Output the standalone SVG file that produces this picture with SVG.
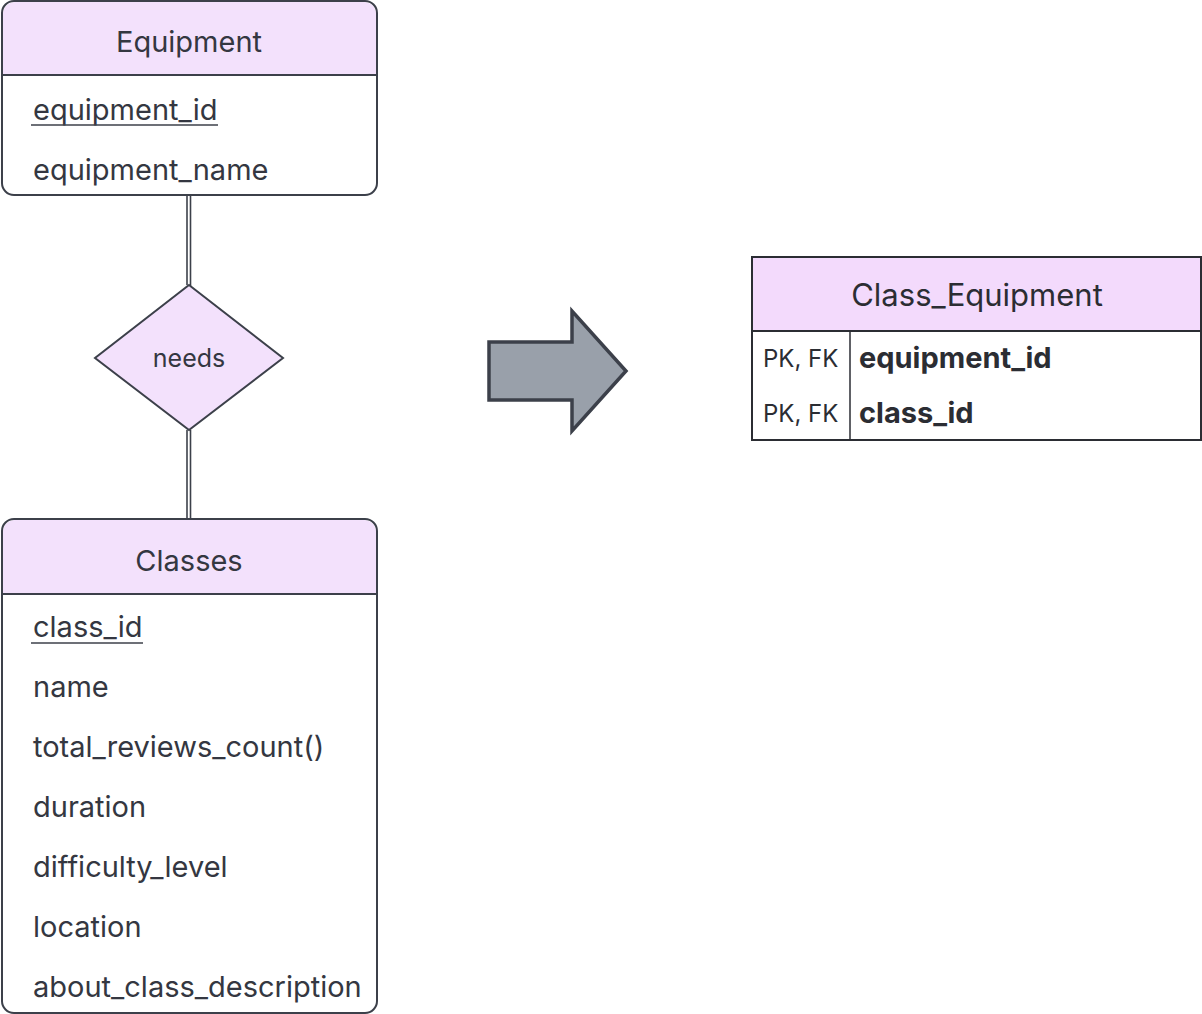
<svg xmlns="http://www.w3.org/2000/svg" width="1202" height="1014" viewBox="0 0 1202 1014">
<style>
text{font-family:Inter,"Noto Sans","Liberation Sans",sans-serif;fill:#343741}
.title{font-size:29px;text-anchor:middle}
.attr{font-size:29px}
.key{font-size:24px}
.bold{font-size:29px;font-weight:700}
.box{fill:none;stroke:#3c404a;stroke-width:2}
.hdr{fill:#f3e1fc}
.line{stroke:#3c404a;stroke-width:2;fill:none}
.ul{stroke:#3c404a;stroke-width:1.5;fill:none}
.conn{stroke:#3c404a;stroke-width:1.6;fill:none}
.dk{fill:#2b2d33}
</style>
<rect width="1202" height="1014" fill="#ffffff"/>
<g id="connectors">
<line class="conn" x1="187" y1="196" x2="187" y2="285"/>
<line class="conn" x1="190.5" y1="196" x2="190.5" y2="286"/>
<line class="conn" x1="187" y1="430" x2="187" y2="519"/>
<line class="conn" x1="190.5" y1="430" x2="190.5" y2="519"/>
</g>
<g id="equipment">
<path class="hdr" d="M3,75 V14 a12,12 0 0 1 12,-12 H364 a12,12 0 0 1 12,12 V75 Z"/>
<rect class="box" x="2" y="1" width="375" height="194" rx="12"/>
<line class="line" x1="2" y1="75" x2="377" y2="75"/>
<text class="title" x="189" y="52">Equipment</text>
<text class="attr" x="33" y="120">equipment_id</text>
<line class="ul" x1="31" y1="125" x2="218" y2="125"/>
<text class="attr" x="33" y="180">equipment_name</text>
</g>
<g id="needs">
<polygon points="189,285 283,358 189,430 95,358" fill="#f3e1fc" stroke="#3c404a" stroke-width="2"/>
<text x="189" y="367" style="font-size:25px;text-anchor:middle">needs</text>
</g>
<g id="classes">
<path class="hdr" d="M3,594 V532 a12,12 0 0 1 12,-12 H364 a12,12 0 0 1 12,12 V594 Z"/>
<rect class="box" x="2" y="519" width="375" height="494" rx="12"/>
<line class="line" x1="2" y1="594" x2="377" y2="594"/>
<text class="title" x="189" y="571">Classes</text>
<text class="attr" x="33" y="637">class_id</text>
<line class="ul" x1="31" y1="643" x2="143" y2="643"/>
<text class="attr" x="33" y="697">name</text>
<text class="attr" x="33" y="757">total_reviews_count()</text>
<text class="attr" x="33" y="817">duration</text>
<text class="attr" x="33" y="877">difficulty_level</text>
<text class="attr" x="33" y="937">location</text>
<text class="attr" x="33" y="997">about_class_description</text>
</g>
<g id="arrow">
<polygon points="489,342 572,342 572,311 626,371 572,431 572,400 489,400" fill="#99a0aa" stroke="#3c404a" stroke-width="3.5" stroke-linejoin="miter"/>
</g>
<g id="class_equipment">
<rect x="752" y="257" width="449" height="74" fill="#f3dafc"/>
<rect x="752" y="257" width="449" height="183" fill="none" stroke="#2b2d33" stroke-width="2"/>
<line x1="752" y1="331" x2="1201" y2="331" stroke="#2b2d33" stroke-width="2"/>
<line x1="850" y1="331" x2="850" y2="440" stroke="#2b2d33" stroke-width="1.5"/>
<text class="title dk" x="977" y="306" style="font-size:31px">Class_Equipment</text>
<text class="key dk" x="763" y="367">PK, FK</text>
<text class="bold dk" x="859" y="368">equipment_id</text>
<text class="key dk" x="763" y="422">PK, FK</text>
<text class="bold dk" x="859" y="423">class_id</text>
</g>
</svg>
